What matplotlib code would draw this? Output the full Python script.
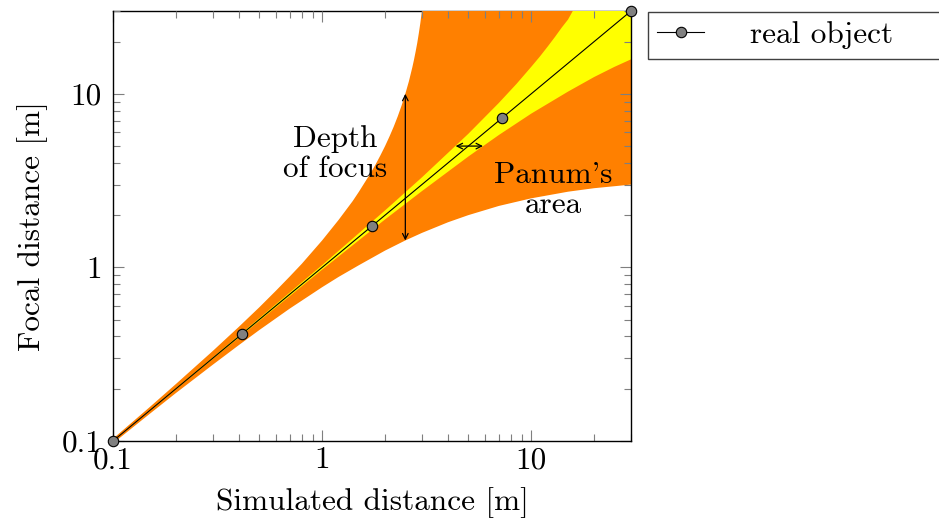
import numpy as np
import matplotlib
matplotlib.use("Agg")
import matplotlib.pyplot as plt
from matplotlib.ticker import FixedLocator, FixedFormatter, LogLocator, NullFormatter

plt.rcParams['font.family'] = 'serif'
plt.rcParams['font.serif'] = ['cmr10', 'DejaVu Serif']
plt.rcParams['mathtext.fontset'] = 'cm'
plt.rcParams['axes.formatter.use_mathtext'] = True

# real object points (simulated = focal)
obj_x = [0.1, 0.416, 1.73, 7.21, 30]
obj_y = [0.1, 0.416, 1.73, 7.21, 30]

# depth of focus band (orange)
dof_up_x = [0.1, 0.15, 0.2, 0.3, 0.4, 0.5, 0.6, 0.7, 0.8, 1.0, 1.2, 1.4, 1.5, 1.7, 1.8, 1.9,
            2.0, 2.1, 2.2, 2.3, 2.4, 2.5, 2.6, 2.7, 2.75, 2.8, 2.85, 2.9, 2.95, 3.0, 30]
dof_up_y = [0.103, 0.157, 0.213, 0.33, 0.455, 0.588, 0.732, 0.886, 1.05, 1.43, 1.88, 2.41, 2.73,
            3.47, 3.91, 4.42, 5.0, 5.68, 6.47, 7.42, 8.57, 10, 11.8, 14.2, 15.7, 17.5, 19.6,
            22.3, 25.6, 30, 30]
dof_lo_x = [0.1, 0.15, 0.2, 0.3, 0.4, 0.5, 0.7, 1.0, 1.2, 1.5, 2.0, 2.5, 3.0, 4.0, 5.0, 7.0,
            10, 15, 20, 30]
dof_lo_y = [0.097, 0.1435, 0.189, 0.275, 0.357, 0.435, 0.579, 0.769, 0.882, 1.03, 1.25, 1.43,
            1.58, 1.82, 2.0, 2.26, 2.5, 2.73, 2.86, 3.0]

# Panum's area (yellow)
pan_up_x = [0.1, 0.3, 1.0, 2.0, 3.0, 5.0, 7.0, 8.5, 10, 11, 12, 13, 14, 15, 15.8, 30]
pan_up_y = [0.1, 0.303, 1.03, 2.13, 3.3, 5.88, 8.86, 11.4, 14.3, 16.4, 18.75, 21.3, 24.1, 26.8,
            30, 30]
pan_lo_x = [0.1, 0.3, 1.0, 2.0, 3.0, 5.0, 7.0, 10, 15, 20, 25, 30]
pan_lo_y = [0.0997, 0.297, 0.971, 1.89, 2.75, 4.35, 5.79, 7.69, 10.3, 12.5, 14.3, 15.8]

ticks = [0.1, 1, 10]
tick_labels = ['0.1', '1', '10']

fs = 22.5
orange = '#ff8000'
yellow = '#ffff00'

fig = plt.figure(figsize=(9.39, 5.27), dpi=100)
ax = fig.add_axes([113 / 939, 86 / 527, 518 / 939, 430 / 527])
ax.set_xscale('log')
ax.set_yscale('log')
ax.set_xlim(0.1, 30)
ax.set_ylim(0.1, 30)

ax.fill(dof_up_x + dof_lo_x[::-1], dof_up_y + dof_lo_y[::-1], color=orange, lw=0, zorder=1)
ax.fill(pan_up_x + pan_lo_x[::-1], pan_up_y + pan_lo_y[::-1], color=yellow, lw=0, zorder=1.1)
ax.spines['top'].set_zorder(0.5)

ax.plot(obj_x, obj_y, color='black', lw=0.8, marker='o', markersize=7.5,
        markerfacecolor='#808080', markeredgecolor='black', markeredgewidth=0.8,
        clip_on=False, zorder=4, label='real object')

# arrows
ax.annotate('', xy=(2.5, 10), xytext=(2.5, 1.43),
            arrowprops=dict(arrowstyle='<->', lw=0.9, color='black', shrinkA=0, shrinkB=0,
                            mutation_scale=10))
ax.annotate('', xy=(5.88, 5.0), xytext=(4.35, 5.0),
            arrowprops=dict(arrowstyle='<->', lw=0.9, color='black', shrinkA=0, shrinkB=0,
                            mutation_scale=10))
ax.text(1.15, 4.5, 'Depth\nof focus', ha='center', va='center', fontsize=fs,
        linespacing=1.1, zorder=5)
ax.text(12.7, 2.8, "Panum's\narea", ha='center', va='center', fontsize=fs,
        linespacing=1.1, zorder=5)

for axis in (ax.xaxis, ax.yaxis):
    axis.set_major_locator(FixedLocator(ticks))
    axis.set_major_formatter(FixedFormatter(tick_labels))
    axis.set_minor_locator(LogLocator(base=10, subs=np.arange(2, 10)))
    axis.set_minor_formatter(NullFormatter())
ax.tick_params(which='both', direction='in', top=True, right=True, color='#7f7f7f',
               width=0.8, labelsize=fs)
ax.tick_params(which='major', length=8)
ax.tick_params(axis='x', which='major', pad=4)
ax.tick_params(axis='y', which='major', pad=8)
ax.tick_params(which='minor', length=5)
for s in ax.spines.values():
    s.set_linewidth(1.0)

ax.set_xlabel('Simulated distance [m]', fontsize=fs, labelpad=9)
ax.set_ylabel('Focal distance [m]', fontsize=fs, labelpad=10)

leg = ax.legend(loc='upper left', bbox_to_anchor=(648 / 939, 1 - 62 / 527, 300 / 939, 50 / 527),
                bbox_transform=fig.transFigure, mode='expand', fontsize=fs, frameon=True,
                fancybox=False, framealpha=1, edgecolor='#404040', borderaxespad=0,
                handlelength=1.5, handletextpad=1.45, borderpad=0.3)
leg.get_frame().set_linewidth(1.0)

fig.savefig('out.png', dpi=100)
